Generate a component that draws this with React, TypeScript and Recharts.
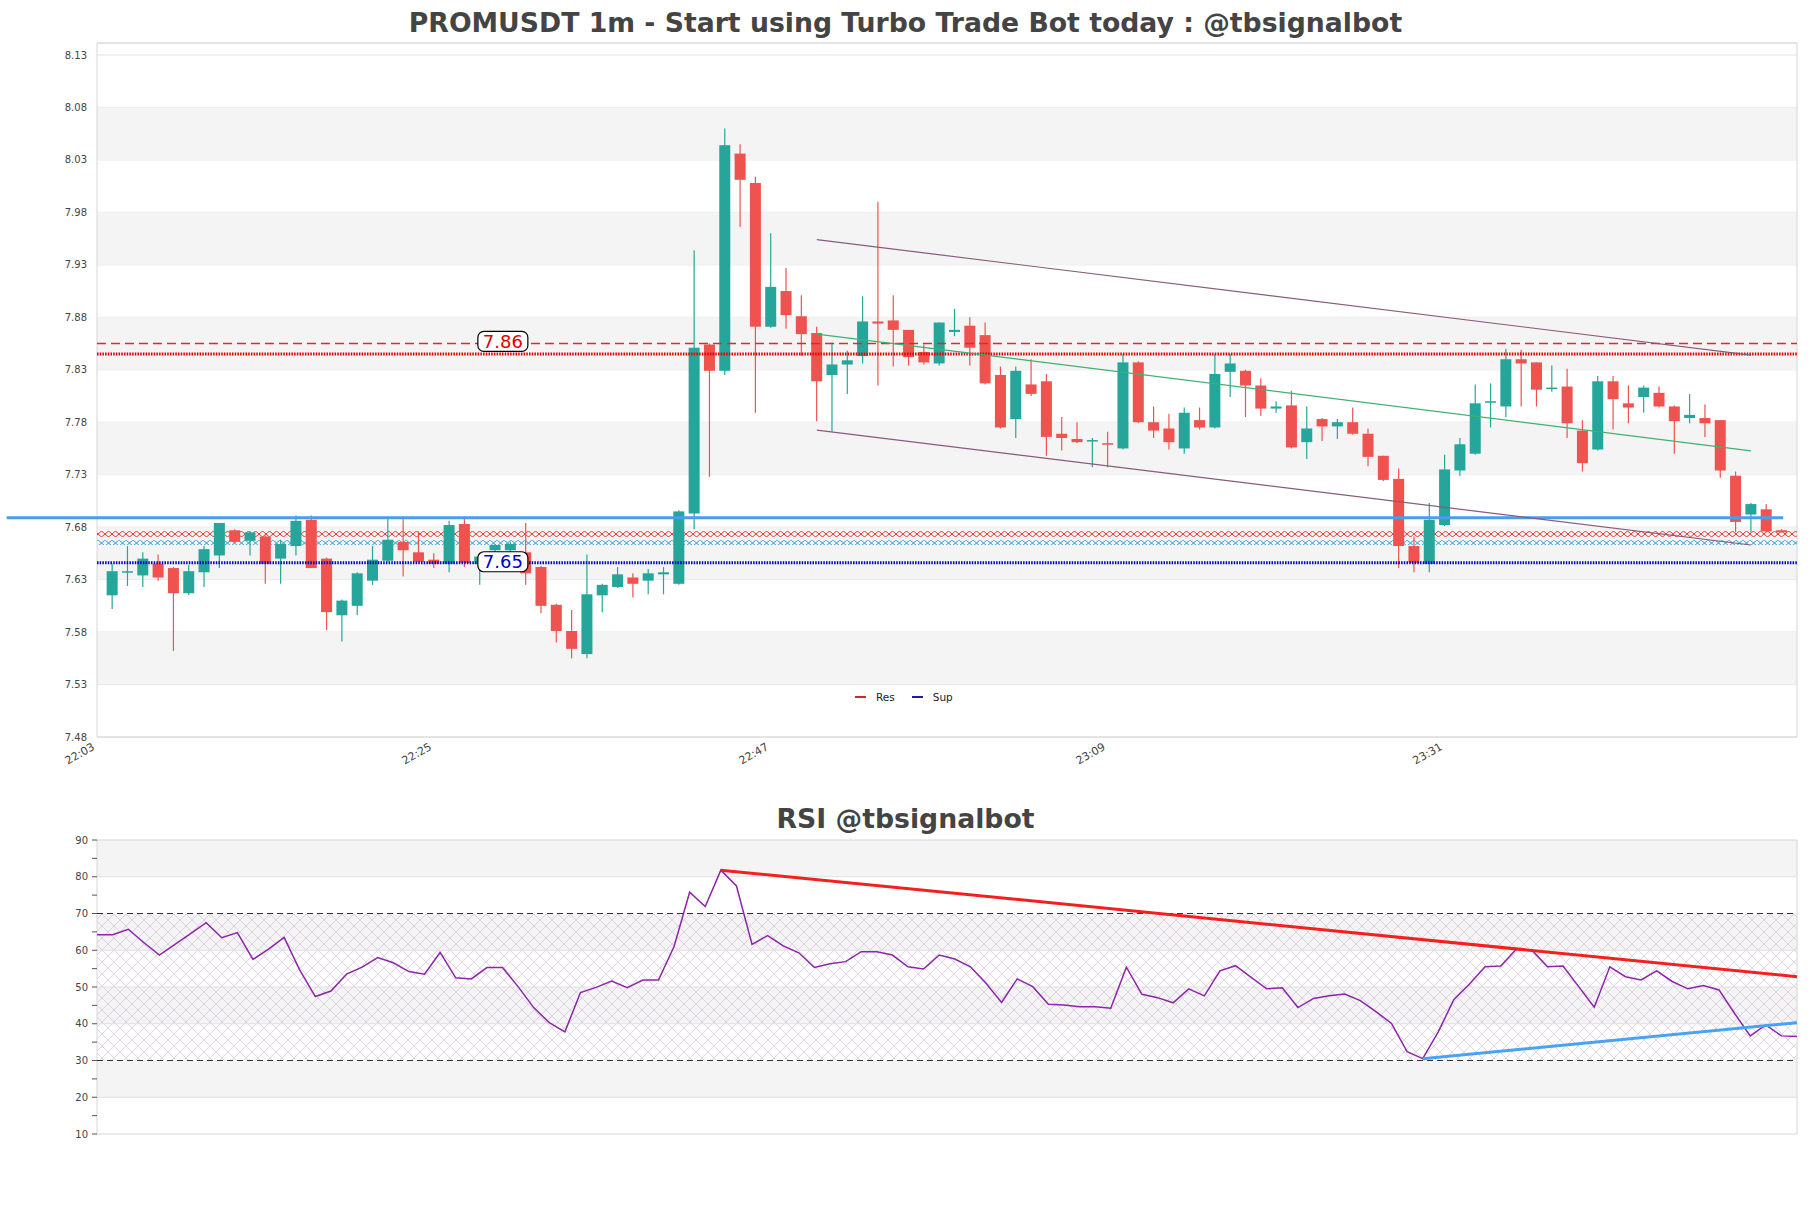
import React from "react";
import {
  ComposedChart,
  Bar,
  Line,
  XAxis,
  YAxis,
  CartesianGrid,
  ReferenceLine,
  ReferenceArea,
  ReferenceDot,
  Legend,
} from "recharts";

// OHLC, one entry per 1m candle starting 22:03
const opens = [
  7.615, 7.637, 7.634, 7.645, 7.641, 7.617, 7.637, 7.653, 7.677, 7.667,
  7.671, 7.650, 7.662, 7.687, 7.650, 7.596, 7.605, 7.629, 7.648, 7.666,
  7.656, 7.649, 7.645, 7.683, 7.645, 7.658, 7.658, 7.656, 7.642, 7.606,
  7.581, 7.559, 7.615, 7.623, 7.632, 7.629, 7.635, 7.626, 7.693, 7.854,
  7.829, 8.036, 8.008, 7.871, 7.905, 7.881, 7.865, 7.825, 7.835, 7.843,
  7.876, 7.877, 7.868, 7.847, 7.836, 7.866, 7.872, 7.863, 7.825, 7.783,
  7.816, 7.819, 7.769, 7.764, 7.762, 7.760, 7.755, 7.837, 7.780, 7.774,
  7.755, 7.782, 7.775, 7.828, 7.829, 7.815, 7.793, 7.796, 7.761, 7.783,
  7.776, 7.780, 7.769, 7.748, 7.726, 7.662, 7.645, 7.682, 7.734, 7.750,
  7.799, 7.795, 7.840, 7.837, 7.812, 7.814, 7.772, 7.754, 7.819, 7.798,
  7.804, 7.808, 7.795, 7.784, 7.784, 7.782, 7.729, 7.692, 7.697, 7.677,
];
const highs = [
  7.645, 7.662, 7.656, 7.654, 7.642, 7.644, 7.662, 7.684, 7.678, 7.676,
  7.672, 7.668, 7.691, 7.691, 7.651, 7.611, 7.637, 7.662, 7.690, 7.690,
  7.676, 7.655, 7.686, 7.690, 7.655, 7.664, 7.666, 7.684, 7.643, 7.607,
  7.601, 7.654, 7.626, 7.642, 7.636, 7.640, 7.642, 7.696, 7.944, 7.855,
  8.060, 8.045, 8.014, 7.960, 7.927, 7.901, 7.871, 7.856, 7.848, 7.900,
  7.990, 7.901, 7.868, 7.854, 7.875, 7.888, 7.880, 7.875, 7.833, 7.833,
  7.840, 7.826, 7.785, 7.780, 7.765, 7.771, 7.845, 7.838, 7.795, 7.788,
  7.794, 7.794, 7.845, 7.845, 7.830, 7.822, 7.800, 7.810, 7.795, 7.784,
  7.783, 7.794, 7.774, 7.748, 7.736, 7.671, 7.703, 7.749, 7.765, 7.816,
  7.817, 7.850, 7.849, 7.837, 7.834, 7.831, 7.782, 7.824, 7.824, 7.815,
  7.815, 7.814, 7.796, 7.807, 7.797, 7.782, 7.733, 7.703, 7.702, 7.678,
];
const lows = [
  7.602, 7.624, 7.623, 7.629, 7.562, 7.615, 7.623, 7.641, 7.665, 7.653,
  7.626, 7.626, 7.653, 7.641, 7.582, 7.571, 7.596, 7.625, 7.647, 7.633,
  7.646, 7.641, 7.637, 7.642, 7.625, 7.655, 7.656, 7.625, 7.598, 7.570,
  7.555, 7.555, 7.599, 7.622, 7.613, 7.616, 7.616, 7.625, 7.678, 7.728,
  7.825, 7.966, 7.789, 7.870, 7.869, 7.843, 7.781, 7.771, 7.807, 7.836,
  7.815, 7.833, 7.834, 7.835, 7.834, 7.862, 7.834, 7.816, 7.774, 7.765,
  7.805, 7.748, 7.753, 7.760, 7.737, 7.737, 7.754, 7.779, 7.765, 7.754,
  7.750, 7.773, 7.774, 7.804, 7.785, 7.786, 7.789, 7.755, 7.745, 7.762,
  7.764, 7.768, 7.738, 7.724, 7.641, 7.637, 7.637, 7.681, 7.729, 7.749,
  7.775, 7.785, 7.795, 7.795, 7.809, 7.765, 7.733, 7.753, 7.773, 7.779,
  7.789, 7.794, 7.750, 7.779, 7.766, 7.727, 7.675, 7.675, 7.675, 7.675,
];
const closes = [
  7.638, 7.638, 7.650, 7.632, 7.617, 7.638, 7.659, 7.684, 7.666, 7.675,
  7.645, 7.664, 7.686, 7.641, 7.599, 7.610, 7.636, 7.649, 7.668, 7.658,
  7.647, 7.645, 7.682, 7.646, 7.652, 7.663, 7.664, 7.636, 7.605, 7.581,
  7.564, 7.616, 7.625, 7.635, 7.626, 7.636, 7.637, 7.695, 7.851, 7.829,
  8.044, 8.011, 7.871, 7.909, 7.882, 7.864, 7.819, 7.835, 7.839, 7.876,
  7.874, 7.868, 7.842, 7.837, 7.875, 7.868, 7.851, 7.817, 7.775, 7.829,
  7.807, 7.766, 7.765, 7.761, 7.763, 7.759, 7.837, 7.780, 7.772, 7.761,
  7.789, 7.775, 7.826, 7.836, 7.815, 7.793, 7.795, 7.756, 7.774, 7.776,
  7.780, 7.769, 7.747, 7.725, 7.662, 7.646, 7.687, 7.735, 7.759, 7.798,
  7.800, 7.840, 7.836, 7.811, 7.813, 7.779, 7.741, 7.819, 7.802, 7.794,
  7.813, 7.795, 7.781, 7.787, 7.779, 7.734, 7.685, 7.702, 7.676, 7.675,
];

const rsiValues = [
  64.2, 64.2, 65.7, 62.1, 58.7, 61.6, 64.5, 67.5, 63.4, 64.8,
  57.5, 60.3, 63.5, 54.6, 47.4, 48.9, 53.5, 55.4, 58.0, 56.6,
  54.2, 53.5, 59.4, 52.5, 52.2, 55.3, 55.3, 50.1, 44.4, 40.3,
  37.8, 48.5, 49.9, 51.6, 49.8, 51.9, 51.9, 61.0, 75.8, 71.9,
  81.8, 77.5, 61.6, 64.0, 61.2, 59.3, 55.3, 56.3, 56.9, 59.6,
  59.6, 58.7, 55.5, 54.9, 58.7, 57.6, 55.5, 51.0, 45.8, 52.2,
  50.1, 45.3, 45.1, 44.6, 44.6, 44.2, 55.4, 48.0, 47.1, 45.7,
  49.5, 47.6, 54.4, 55.8, 52.6, 49.5, 49.8, 44.4, 46.9, 47.6,
  48.1, 46.3, 43.3, 40.1, 32.4, 30.5, 37.8, 46.6, 50.8, 55.5,
  55.7, 60.3, 60.1, 55.5, 55.7, 50.1, 44.5, 55.5, 52.8, 51.9,
  54.4, 51.5, 49.5, 50.4, 49.2, 42.8, 36.7, 39.7, 36.7, 36.5,
];

const timeLabels = ["22:03", "22:25", "22:47", "23:09", "23:31"];
const timeTickIdx = [0, 22, 44, 66, 88];
const priceTicks = [
  7.48, 7.53, 7.58, 7.63, 7.68, 7.73, 7.78, 7.83, 7.88, 7.93, 7.98, 8.03, 8.08, 8.13,
];
const shadedPriceBands = [
  [7.53, 7.58], [7.63, 7.68], [7.73, 7.78], [7.83, 7.88], [7.93, 7.98], [8.03, 8.08],
];
const rsiTicks = [10, 15, 20, 25, 30, 35, 40, 45, 50, 55, 60, 65, 70, 75, 80, 85, 90];
const rsiGrid = [20, 40, 50, 60, 80];
const rsiShaded = [[80, 90], [60, 70], [40, 50], [20, 30]];

// levels
const resLevel = 7.845;
const resUpper = 7.855;
const supLevel = 7.646;
const pivotLevel = 7.689;
const redZone = [7.6707, 7.6764];
const blueZone = [7.6629, 7.6676];
const channelUpper = [[46, 7.954], [107, 7.844]];
const channelMid = [[46, 7.864], [107, 7.7527]];
const channelLower = [[46, 7.7724], [107, 7.663]];
const rsiDownTrend = [[40, 81.8], [109, 52.8]];
const rsiUpTrend = [[85, 30.5], [109, 40.3]];

const legendItems = [
  { name: "Res", color: "#d62728" },
  { name: "Sup", color: "#1a1aa6" },
];

const UP = "#26a69a";
const DOWN = "#ef5350";
const FONT = "DejaVu Sans";

const candles = opens.map((open, i) => ({
  i,
  open,
  close: closes[i],
  high: highs[i],
  low: lows[i],
  range: [lows[i], highs[i]],
}));
const rsiData = rsiValues.map((v, i) => ({ i, v }));

const Candle = (props: any) => {
  const { x, y, width, height, payload } = props;
  const { open, close, high, low } = payload;
  const color = close >= open ? UP : DOWN;
  const top = Math.min(y, y + height);
  const h = Math.abs(height);
  const span = high - low;
  const py = (p: number) => (span === 0 ? top : top + ((high - p) / span) * h);
  const cx = x + width / 2;
  const bTop = py(Math.max(open, close));
  const bBot = py(Math.min(open, close));
  return (
    <g>
      <line x1={cx} x2={cx} y1={top} y2={top + h} stroke={color} strokeWidth={1.2} />
      <rect x={x} y={bTop} width={width} height={Math.max(bBot - bTop, 1.5)} fill={color} />
    </g>
  );
};

const TimeTick = (props: any) => {
  const { x, y, payload } = props;
  const k = timeTickIdx.indexOf(payload.value);
  return (
    <text
      transform={`translate(${x - 17},${y + 12}) rotate(-30)`}
      textAnchor="end"
      fontSize={11}
      fill="#444"
      fontFamily={FONT}
    >
      {k >= 0 ? timeLabels[k] : ""}
    </text>
  );
};

const priceTag = (text: string, color: string) => (p: any) => (
  <g>
    <rect x={p.cx - 25} y={p.cy - 10} width={50} height={20} rx={6} fill="#fff" stroke="#000" strokeWidth={1.2} />
    <text x={p.cx} y={p.cy + 6.5} textAnchor="middle" fontSize={18} fill={color} fontFamily={FONT}>
      {text}
    </text>
  </g>
);

const seg = (s: number[][]) => [
  { x: s[0][0], y: s[0][1] },
  { x: s[1][0], y: s[1][1] },
];

const LegendBox = () => (
  <div style={{ display: "flex", alignItems: "center", fontFamily: FONT, fontSize: 10.5, color: "#222" }}>
    {legendItems.map((it) => (
      <div key={it.name} style={{ display: "flex", alignItems: "center", marginRight: 17 }}>
        <span style={{ display: "inline-block", width: 11, height: 2.5, background: it.color, marginRight: 10 }} />
        {it.name}
      </div>
    ))}
  </div>
);

const titleStyle: React.CSSProperties = {
  position: "absolute",
  left: 0,
  width: 1811,
  textAlign: "center",
  fontFamily: FONT,
  fontWeight: "bold",
  fontSize: 26.7,
  lineHeight: "30px",
  color: "#444",
};

export default function App() {
  return (
    <div style={{ position: "absolute", left: 0, top: 0, width: 1811, height: 1208, background: "#fff" }}>
      <svg width={0} height={0} style={{ position: "absolute" }}>
        <defs>
          <pattern id="hatchRed" patternUnits="userSpaceOnUse" width={7} height={6}>
            <path d="M0,0 L7,6 M7,0 L0,6" stroke="#e53935" strokeWidth={1} />
          </pattern>
          <pattern id="hatchBlue" patternUnits="userSpaceOnUse" width={7} height={6}>
            <path d="M0,0 L7,6 M7,0 L0,6" stroke="#2a9fe0" strokeWidth={1} />
          </pattern>
          <pattern id="rsiHatch" patternUnits="userSpaceOnUse" width={12} height={12}>
            <path d="M0,0 L12,12 M12,0 L0,12" stroke="#cdbbd8" strokeWidth={0.6} />
          </pattern>
        </defs>
      </svg>

      <div style={{ ...titleStyle, top: 8 }}>
        PROMUSDT 1m - Start using Turbo Trade Bot today : @tbsignalbot
      </div>

      <div style={{ position: "absolute", left: 0, top: 0 }}>
        <ComposedChart width={1811} height={770} data={candles} margin={{ top: 43, right: 14, bottom: 3, left: 0 }}>
          {shadedPriceBands.map(([a, b]) => (
            <ReferenceArea key={a} y1={a} y2={b} fill="#f4f4f4" fillOpacity={1} stroke="none" ifOverflow="hidden" />
          ))}
          <CartesianGrid horizontal vertical={false} stroke="#e2e2e2" />
          <ReferenceArea x1={-1} x2={110} y1={7.48} y2={8.1414} fill="none" stroke="#d6d6d6" ifOverflow="visible" />
          <XAxis
            type="number"
            dataKey="i"
            domain={[-1, 110]}
            ticks={timeTickIdx}
            tick={<TimeTick />}
            tickLine={false}
            axisLine={false}
            tickSize={0}
            tickMargin={0}
            height={30}
            allowDataOverflow
          />
          <YAxis
            domain={[7.48, 8.1414]}
            ticks={priceTicks}
            tickFormatter={(v: number) => v.toFixed(2)}
            width={97}
            tickLine={false}
            axisLine={false}
            tickSize={6}
            tickMargin={4}
            tick={{ fontSize: 10, fill: "#444", fontFamily: FONT }}
            allowDataOverflow
          />
          <ReferenceArea y1={redZone[0]} y2={redZone[1]} fill="url(#hatchRed)" fillOpacity={1} stroke="none" />
          <ReferenceArea y1={blueZone[0]} y2={blueZone[1]} fill="url(#hatchBlue)" fillOpacity={1} stroke="none" />
          <ReferenceLine y={resUpper} stroke="#e8262a" strokeWidth={1.5} strokeDasharray="9 5" />
          <ReferenceLine y={resLevel} stroke="#e00000" strokeWidth={3} strokeDasharray="1.5 1.2" />
          <ReferenceLine y={supLevel} stroke="#0000cc" strokeWidth={3} strokeDasharray="1.5 1.2" />
          <ReferenceLine
            segment={[{ x: -6.9, y: pivotLevel }, { x: 109.1, y: pivotLevel }]}
            stroke="#4a9ded"
            strokeWidth={3}
            ifOverflow="visible"
          />
          <Bar dataKey="range" barSize={11} shape={<Candle />} isAnimationActive={false} />
          <ReferenceLine segment={seg(channelUpper)} stroke="#8a5a7a" strokeWidth={1.2} ifOverflow="visible" />
          <ReferenceLine segment={seg(channelLower)} stroke="#8a5a7a" strokeWidth={1.2} ifOverflow="visible" />
          <ReferenceLine segment={seg(channelMid)} stroke="#3cb371" strokeWidth={1.2} ifOverflow="visible" />
          <ReferenceDot x={25.5} y={7.857} r={0} shape={priceTag("7.86", "#e00000")} ifOverflow="visible" />
          <ReferenceDot x={25.5} y={7.647} r={0} shape={priceTag("7.65", "#0000cc")} ifOverflow="visible" />
          <Legend
            layout="vertical"
            verticalAlign="middle"
            align="center"
            content={<LegendBox />}
            wrapperStyle={{ left: 855, top: 691, width: 120, height: 16 }}
          />
        </ComposedChart>
      </div>

      <div style={{ ...titleStyle, top: 804 }}>RSI @tbsignalbot</div>

      <div style={{ position: "absolute", left: 0, top: 800 }}>
        <ComposedChart width={1811} height={350} data={rsiData} margin={{ top: 40, right: 14, bottom: 16, left: 0 }}>
          {rsiShaded.map(([a, b]) => (
            <ReferenceArea key={a} y1={a} y2={b} fill="#f4f4f4" fillOpacity={1} stroke="none" />
          ))}
          <ReferenceArea y1={30} y2={70} fill="url(#rsiHatch)" fillOpacity={1} stroke="none" />
          {rsiGrid.map((g) => (
            <ReferenceLine key={g} y={g} stroke="#e0e0e0" strokeWidth={1} />
          ))}
          <ReferenceArea x1={0} x2={109} y1={10} y2={90} fill="none" stroke="#d6d6d6" ifOverflow="visible" />
          <XAxis type="number" dataKey="i" domain={[0, 109]} hide />
          <YAxis
            domain={[10, 90]}
            ticks={rsiTicks}
            tickFormatter={(v: number) => (v % 10 === 0 ? String(v) : "")}
            width={97}
            axisLine={false}
            tickLine={{ stroke: "#555" }}
            tickSize={5}
            tickMargin={4}
            tick={{ fontSize: 10, fill: "#444", fontFamily: FONT }}
          />
          <ReferenceLine y={70} stroke="#333" strokeWidth={1.1} strokeDasharray="6 4" />
          <ReferenceLine y={30} stroke="#333" strokeWidth={1.1} strokeDasharray="6 4" />
          <Line dataKey="v" stroke="#8e24aa" strokeWidth={1.5} dot={false} isAnimationActive={false} />
          <ReferenceLine segment={seg(rsiDownTrend)} stroke="#f42020" strokeWidth={3} ifOverflow="visible" />
          <ReferenceLine segment={seg(rsiUpTrend)} stroke="#4aa3f0" strokeWidth={3} ifOverflow="visible" />
        </ComposedChart>
      </div>
    </div>
  );
}
